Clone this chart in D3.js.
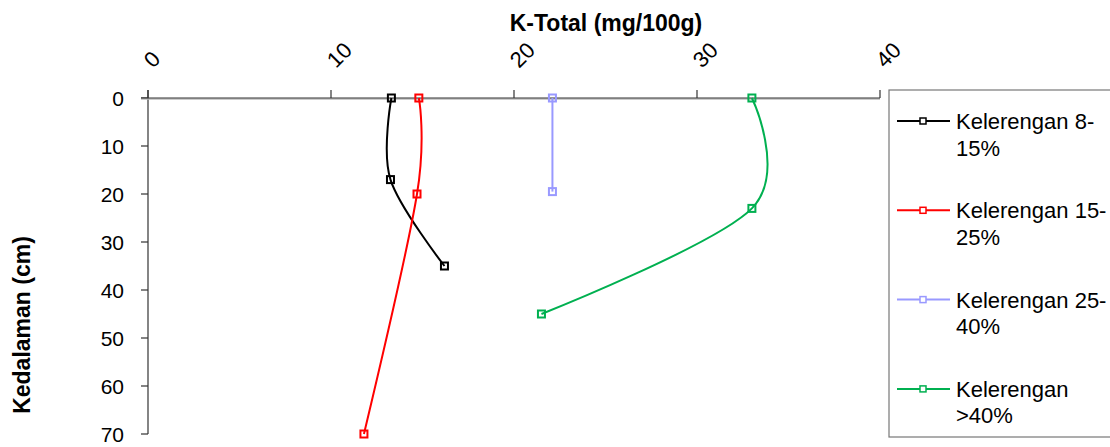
<html>
<head>
    <script src="https://d3js.org/d3.v7.min.js"></script>
    <style>
        body { margin: 0; background: #fff; }
        text { font-family: "Liberation Sans", Arial, sans-serif; fill: #000; }
    </style>
</head>
<body>
    <svg id="chart" width="1110" height="447"></svg>
    <script>
        // K-Total (mg/100g) vs depth (cm)
        var seriesNames = ["Kelerengan 8-15%", "Kelerengan 15-25%", "Kelerengan 25-40%", "Kelerengan >40%"];
        var legendLines = [["Kelerengan 8-", "15%"], ["Kelerengan 15-", "25%"], ["Kelerengan 25-", "40%"], ["Kelerengan", ">40%"]];
        var kTotal8_15 = [13.3, 13.25, 16.2];
        var depth8_15 = [0, 17, 35];
        var kTotal15_25 = [14.8, 14.7, 11.8];
        var depth15_25 = [0, 20, 70];
        var kTotal25_40 = [22.1, 22.1];
        var depth25_40 = [0, 19.5];
        var kTotal40 = [33.0, 33.0, 21.5];
        var depth40 = [0, 23, 45];
        var xTicks = [0, 10, 20, 30, 40];
        var yTicks = [0, 10, 20, 30, 40, 50, 60, 70];
        var colors = ["#000000", "#ff0000", "#9999ff", "#00b050"];

        var seriesX = [kTotal8_15, kTotal15_25, kTotal25_40, kTotal40];
        var seriesY = [depth8_15, depth15_25, depth25_40, depth40];

        var svg = d3.select("#chart");
        var x = d3.scaleLinear().domain([0, 40]).range([148, 880]);
        var y = d3.scaleLinear().domain([0, 70]).range([98, 434]);

        // y axis (left)
        svg.append("line")
            .attr("x1", 148).attr("x2", 148)
            .attr("y1", 90).attr("y2", 434)
            .attr("stroke", "#333").attr("stroke-width", 1.2);
        yTicks.forEach(function (t) {
            svg.append("line")
                .attr("x1", 141).attr("x2", 148)
                .attr("y1", y(t)).attr("y2", y(t))
                .attr("stroke", "#333").attr("stroke-width", 1.2);
            svg.append("text")
                .attr("x", 124).attr("y", y(t))
                .attr("dy", "0.36em")
                .style("text-anchor", "end")
                .style("font-size", "21px")
                .text(t);
        });

        // x axis on top
        svg.append("line")
            .attr("x1", 141).attr("x2", x(40))
            .attr("y1", y(0) + 1).attr("y2", y(0) + 1)
            .attr("stroke", "#bbb").attr("stroke-width", 1.5);
        svg.append("line")
            .attr("x1", 141).attr("x2", x(40))
            .attr("y1", y(0)).attr("y2", y(0))
            .attr("stroke", "#333").attr("stroke-width", 1.2);
        xTicks.forEach(function (t) {
            svg.append("line")
                .attr("x1", x(t)).attr("x2", x(t))
                .attr("y1", 90).attr("y2", y(0))
                .attr("stroke", "#333").attr("stroke-width", 1.2);
            svg.append("text")
                .attr("transform", "translate(" + (x(t) + 5) + ",69) rotate(-45)")
                .style("font-size", "22px")
                .text(t);
        });

        // titles
        svg.append("text")
            .attr("x", 606).attr("y", 31)
            .style("text-anchor", "middle")
            .style("font-size", "23px")
            .style("font-weight", "bold")
            .text("K-Total (mg/100g)");
        svg.append("text")
            .attr("transform", "translate(30,325) rotate(-90)")
            .style("text-anchor", "middle")
            .style("font-size", "23px")
            .style("font-weight", "bold")
            .text("Kedalaman (cm)");

        // series
        var line = d3.line()
            .x(function (d) { return x(d[0]); })
            .y(function (d) { return y(d[1]); })
            .curve(d3.curveCatmullRom.alpha(0));

        seriesX.forEach(function (xs, i) {
            var pts = xs.map(function (v, j) { return [v, seriesY[i][j]]; });
            svg.append("path")
                .datum(pts)
                .attr("d", line)
                .attr("fill", "none")
                .attr("stroke", colors[i])
                .attr("stroke-width", 2);
            svg.selectAll(".m" + i)
                .data(pts)
                .enter().append("rect")
                .attr("class", "m" + i)
                .attr("x", function (d) { return x(d[0]) - 3.5; })
                .attr("y", function (d) { return y(d[1]) - 3.5; })
                .attr("width", 7).attr("height", 7)
                .attr("fill", "none")
                .attr("stroke", colors[i])
                .attr("stroke-width", 2);
        });

        // legend
        svg.append("rect")
            .attr("x", 889).attr("y", 90)
            .attr("width", 230).attr("height", 347)
            .attr("fill", "none")
            .attr("stroke", "#777").attr("stroke-width", 1.2);
        legendLines.forEach(function (lines, i) {
            var ly = 121 + i * 89.3;
            svg.append("line")
                .attr("x1", 897).attr("x2", 950)
                .attr("y1", ly).attr("y2", ly)
                .attr("stroke", colors[i]).attr("stroke-width", 2);
            svg.append("rect")
                .attr("x", 920).attr("y", ly - 3)
                .attr("width", 6).attr("height", 6)
                .attr("fill", "#fff")
                .attr("stroke", colors[i]).attr("stroke-width", 1.5);
            var tx = svg.append("text")
                .attr("x", 956).attr("y", ly)
                .style("font-size", "22px");
            lines.forEach(function (s, k) {
                tx.append("tspan")
                    .attr("x", 956)
                    .attr("dy", k === 0 ? "0.36em" : "1.21em")
                    .text(s);
            });
        });
    </script>
</body>
</html>
